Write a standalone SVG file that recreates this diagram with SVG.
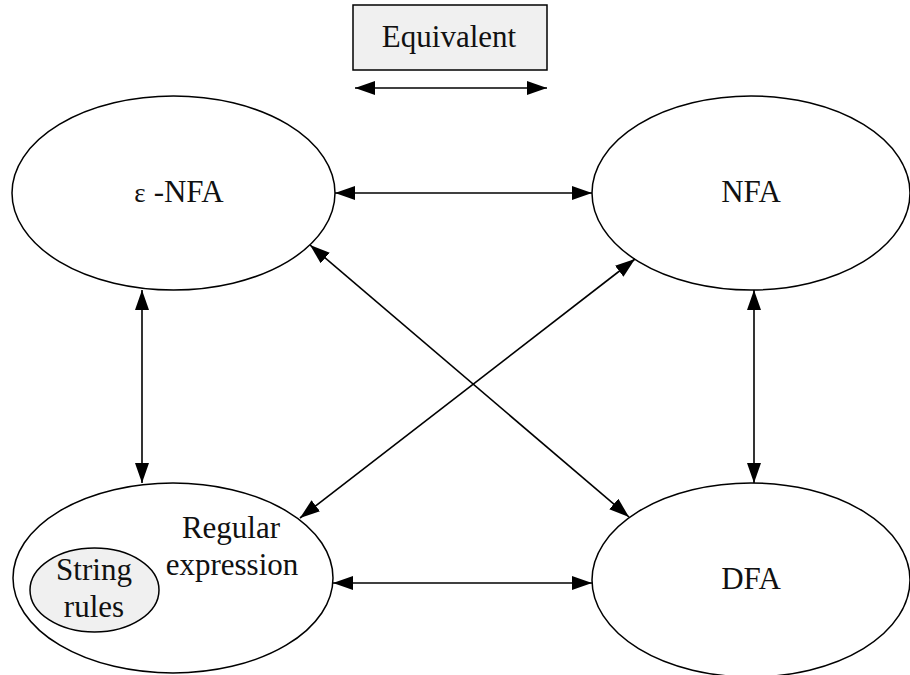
<svg xmlns="http://www.w3.org/2000/svg" width="910" height="675" viewBox="0 0 910 675">
  <style>
    .node { fill: #ffffff; stroke: #000000; stroke-width: 1.5; }
    .inner { fill: #f0f0f0; stroke: #000000; stroke-width: 1.5; }
    .label { font-family: "Liberation Serif", "Times New Roman", serif; font-size: 31px; fill: #111111; text-anchor: middle; }
    .edge { stroke: #000000; stroke-width: 1.6; fill: none; marker-start: url(#head); marker-end: url(#head); }
  </style>
  <defs>
    <marker id="head" viewBox="0 0 20 14" refX="20" refY="7" markerWidth="20" markerHeight="14" markerUnits="userSpaceOnUse" orient="auto-start-reverse">
      <path d="M0,0 L20,7 L0,14 Z" fill="#000000"/>
    </marker>
  </defs>
  <rect width="910" height="675" fill="#ffffff"/>

  <!-- legend -->
  <g id="legend">
    <rect x="353" y="5" width="194" height="65" fill="#f0f0f0" stroke="#000000" stroke-width="1.5"/>
    <text class="label" x="449" y="47">Equivalent</text>
    <line class="edge" x1="355" y1="88" x2="547" y2="88"/>
  </g>

  <!-- nodes -->
  <g id="enfa">
    <ellipse class="node" cx="173.5" cy="193" rx="161.5" ry="97"/>
    <text class="label" x="179" y="202"><tspan font-size="27">ε</tspan><tspan dx="8">-NFA</tspan></text>
  </g>
  <g id="nfa">
    <ellipse class="node" cx="751" cy="193" rx="159" ry="97"/>
    <text class="label" x="751" y="202">NFA</text>
  </g>
  <g id="regex">
    <ellipse class="node" cx="173" cy="578" rx="160" ry="95"/>
    <ellipse class="inner" cx="94.5" cy="590" rx="64.5" ry="42"/>
    <text class="label" x="94" y="580">String</text>
    <text class="label" x="94" y="617">rules</text>
    <text class="label" x="231" y="538">Regular</text>
    <text class="label" x="232" y="575">expression</text>
  </g>
  <g id="dfa">
    <ellipse class="node" cx="751" cy="580" rx="159" ry="97"/>
    <text class="label" x="751" y="589">DFA</text>
  </g>

  <!-- connectors -->
  <g id="edges">
    <line class="edge" x1="335" y1="193" x2="592" y2="193"/>
    <line class="edge" x1="333" y1="583" x2="592" y2="583"/>
    <line class="edge" x1="142" y1="290" x2="142" y2="483"/>
    <line class="edge" x1="754" y1="290" x2="754" y2="483"/>
    <line class="edge" x1="310" y1="245" x2="629" y2="517"/>
    <line class="edge" x1="635" y1="259" x2="300" y2="518"/>
  </g>
</svg>
